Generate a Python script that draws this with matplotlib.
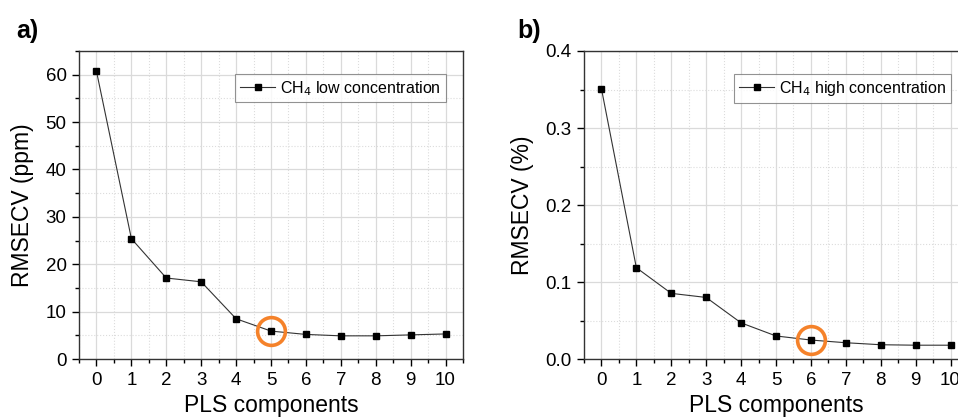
import matplotlib
matplotlib.use("Agg")
import matplotlib.pyplot as plt
from matplotlib.ticker import MultipleLocator, FormatStrFormatter

plt.rcParams['font.family'] = ['Liberation Sans', 'DejaVu Sans']

# данные
components = [0, 1, 2, 3, 4, 5, 6, 7, 8, 9, 10]
rmse_low = [60.7, 25.4, 17.1, 16.3, 8.5, 5.9, 5.2, 4.9, 4.9, 5.1, 5.3]
rmse_high = [0.351, 0.1186, 0.0853, 0.080, 0.047, 0.030, 0.0247, 0.0212, 0.0186, 0.018, 0.018]
label_low = r"CH$_4$ low concentration"
label_high = r"CH$_4$ high concentration"
best_low = 5
best_high = 6

fig = plt.figure(figsize=(9.58, 4.18), dpi=100)
ax1 = fig.add_axes([0.0825, 0.141, 0.4008, 0.737])
ax2 = fig.add_axes([0.6096, 0.141, 0.4008, 0.737])

panels = [
    (ax1, rmse_low, label_low, best_low, "RMSECV (ppm)", (0, 65), 10, 5, "%d"),
    (ax2, rmse_high, label_high, best_high, "RMSECV (%)", (0, 0.4), 0.1, 0.05, "%.1f"),
]

for ax, y, lab, best, ylab, ylim, ymaj, ymin, fmt in panels:
    ax.plot(components, y, color="#333333", lw=0.8, marker="s", ms=5,
            mfc="black", mec="black", label=lab)
    ax.plot([best], [y[best]], marker="o", ms=20, mfc="none", mec="#F5822A",
            mew=2.6, ls="none")
    ax.set_xlim(-0.5, 10.5)
    ax.set_ylim(*ylim)
    ax.xaxis.set_major_locator(MultipleLocator(1))
    ax.xaxis.set_minor_locator(MultipleLocator(0.5))
    ax.yaxis.set_major_locator(MultipleLocator(ymaj))
    ax.yaxis.set_minor_locator(MultipleLocator(ymin))
    ax.yaxis.set_major_formatter(FormatStrFormatter(fmt))
    ax.grid(which="major", color="#dadada", lw=0.9)
    ax.grid(which="minor", color="#dcdcdc", lw=0.8, ls=":")
    ax.set_axisbelow(True)
    ax.tick_params(which="major", direction="out", length=5, width=1, labelsize=13.5,
                   top=False, right=False, pad=4)
    ax.tick_params(which="minor", direction="out", length=3, width=1,
                   top=False, right=False)
    for s in ax.spines.values():
        s.set_color("#333333")
        s.set_linewidth(1)
    ax.set_xlabel("PLS components", fontsize=16.5, labelpad=4)
    ax.set_ylabel(ylab, fontsize=16.5, labelpad=8)
    leg = ax.legend(loc="upper right", bbox_to_anchor=(0.955, 0.925), fontsize=11.5,
                    frameon=True, fancybox=False, edgecolor="#777777",
                    handlelength=2.2, handletextpad=0.3, borderpad=0.3,
                    borderaxespad=0)
    leg.get_frame().set_linewidth(0.8)

fig.text(0.017, 0.91, "a)", fontsize=18, fontweight="bold")
fig.text(0.54, 0.91, "b)", fontsize=18, fontweight="bold")

fig.savefig("out.png", dpi=100)
